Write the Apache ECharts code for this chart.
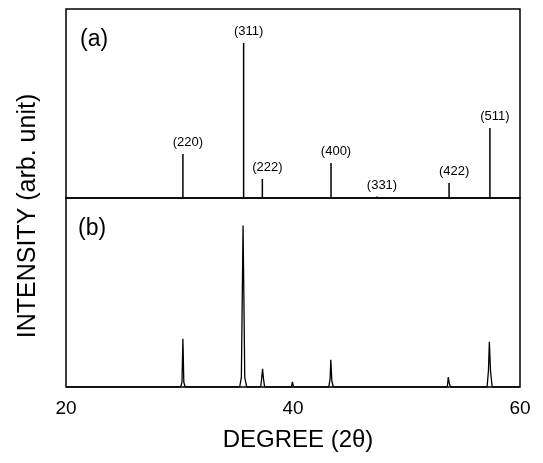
<!DOCTYPE html>
<html>
<head>
<meta charset="utf-8">
<title>XRD</title>
<script src="https://cdn.jsdelivr.net/npm/echarts@6/dist/echarts.min.js"></script>
</head>
<body style="margin:0">
<div id="main" style="width:543px;height:463px;"></div>
<script type="text/javascript">
// (a) reference stick pattern
var hklNames = ['(220)', '(311)', '(222)', '(400)', '(331)', '(422)', '(511)'];
var stickPos = [30.3, 35.65, 37.3, 43.35, 47.4, 53.75, 57.35];
var stickHeight = [28.4, 100, 12.3, 22.6, 1, 9.7, 45.2];

// (b) measured pattern, profile points [2theta, intensity]
var measured = [
  [20, 0], [29.4, 0], [30.1, 0], [30.22, 3], [30.3, 29.8], [30.38, 3], [30.5, 0],
  [35.3, 0], [35.45, 6], [35.6, 100], [35.75, 6], [35.92, 0],
  [37.15, 0], [37.25, 6], [37.32, 11.2], [37.4, 5], [37.5, 0],
  [39.85, 0], [39.95, 3.1], [40.05, 0],
  [43.15, 0], [43.27, 5], [43.33, 16.8], [43.42, 4], [43.55, 0],
  [53.6, 0], [53.68, 6.2], [53.78, 2], [53.88, 0],
  [57.1, 0], [57.22, 10], [57.3, 28], [57.4, 10], [57.55, 0],
  [60, 0]
];

var xTicks = [20, 40, 60];

var myChart = echarts.init(document.getElementById('main'));

var sticks = stickPos.map(function (x, i) {
  return { value: [x, stickHeight[i]], name: hklNames[i] };
});

var font = 'Liberation Sans, Arial, sans-serif';

var option = {
  backgroundColor: '#fff',
  animation: false,
  grid: [
    { left: 66, right: 23, top: 9, height: 189, show: true, borderColor: '#000', borderWidth: 1.5 },
    { left: 66, right: 23, top: 198, height: 189, show: true, borderColor: '#000', borderWidth: 1.5 }
  ],
  xAxis: [
    { gridIndex: 0, type: 'value', min: xTicks[0], max: xTicks[2], interval: 20,
      axisLine: { show: false }, axisTick: { show: false }, axisLabel: { show: false }, splitLine: { show: false } },
    { gridIndex: 1, type: 'value', min: xTicks[0], max: xTicks[2], interval: 20,
      axisLine: { show: false }, axisTick: { show: false }, splitLine: { show: false },
      axisLabel: { color: '#000', fontSize: 19, fontFamily: font, margin: 12 } }
  ],
  yAxis: [
    { gridIndex: 0, type: 'value', min: 0, max: 122, show: false, splitLine: { show: false } },
    { gridIndex: 1, type: 'value', min: 0, max: 117, show: false, splitLine: { show: false } }
  ],
  series: [
    {
      type: 'bar', xAxisIndex: 0, yAxisIndex: 0, barWidth: 1.5,
      itemStyle: { color: '#000' },
      label: {
        show: true, position: 'top', distance: 5, offset: [5, 0],
        formatter: function (p) { return p.name; },
        color: '#000', fontSize: 13, fontFamily: font
      },
      data: sticks
    },
    {
      type: 'line', xAxisIndex: 1, yAxisIndex: 1, symbol: 'none',
      lineStyle: { color: '#000', width: 1.3 },
      data: measured
    }
  ],
  graphic: [
    { type: 'text', left: 80, top: 28, style: { text: '(a)', fontSize: 23, fontFamily: font, fill: '#000' } },
    { type: 'text', left: 78, top: 217, style: { text: '(b)', fontSize: 23, fontFamily: font, fill: '#000' } },
    { type: 'text', x: 28, y: 216, rotation: Math.PI / 2,
      style: { text: 'INTENSITY (arb. unit)', fontSize: 25, fontFamily: font, fill: '#000',
               align: 'center', verticalAlign: 'middle' } },
    { type: 'text', x: 298, y: 440,
      style: { text: 'DEGREE (2θ)', fontSize: 24, fontFamily: font, fill: '#000',
               align: 'center', verticalAlign: 'middle' } }
  ]
};
myChart.setOption(option);
</script>
</body>
</html>
